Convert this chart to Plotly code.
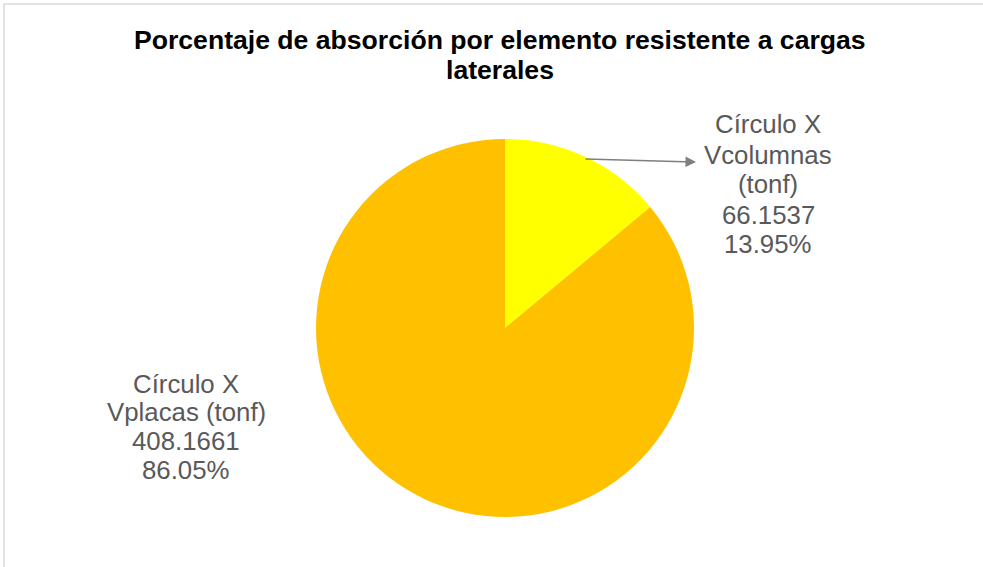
import plotly.graph_objects as go

# Chart data
categories = ["Círculo X Vcolumnas (tonf)", "Círculo X Vplacas (tonf)"]
label_lines = [["Círculo X", "Vcolumnas", "(tonf)"], ["Círculo X", "Vplacas (tonf)"]]
values = [66.1537, 408.1661]
colors = ["#FFFF00", "#FFC000"]
title_lines = ["Porcentaje de absorción por elemento resistente a cargas", "laterales"]

W, H = 983, 567


def px(x):
    return x / W


def py(y):
    return 1 - y / H


total = sum(values)
pcts = [v / total * 100 for v in values]

# Pie geometry (pixels)
cx, cy, r = 505, 328, 189

fig = go.Figure(
    go.Pie(
        labels=categories,
        values=values,
        marker=dict(colors=colors, line=dict(width=0)),
        sort=False,
        direction="clockwise",
        rotation=0,
        textinfo="none",
        hoverinfo="label+value+percent",
        domain=dict(x=[px(cx - r), px(cx + r)], y=[py(cy + r), py(cy - r)]),
        showlegend=False,
    )
)

annotations = []

# Data labels: one line per annotation (centre x, first line y, line gap, slice index)
label_specs = [
    (768, 124.5, 30.0, 0),
    (186, 383.5, 28.8, 1),
]
for lx, ly, gap, i in label_specs:
    lines = label_lines[i] + [f"{values[i]:.4f}", f"{pcts[i]:.2f}%"]
    for k, t in enumerate(lines):
        annotations.append(
            dict(
                x=px(lx), y=py(ly + k * gap), xref="paper", yref="paper",
                text=t, showarrow=False, xanchor="center", yanchor="middle",
                font=dict(family="Liberation Sans, Arial", size=25.8, color="#595959"),
            )
        )

# Leader line for the small slice
annotations.append(
    dict(
        x=px(696), y=py(162), xref="paper", yref="paper",
        ax=584 - 696, ay=159 - 162, text="", showarrow=True,
        arrowhead=2, arrowsize=1.4, arrowwidth=1.5, arrowcolor="#7F7F7F",
        standoff=0, startstandoff=0,
    )
)

# Title, two lines
for k, t in enumerate(title_lines):
    annotations.append(
        dict(
            x=px(500), y=py(40 + k * 30), xref="paper", yref="paper",
            text=f"<b>{t}</b>", showarrow=False,
            xanchor="center", yanchor="middle",
            font=dict(family="Liberation Sans, Arial", size=26.6, color="#000000"),
        )
    )

fig.update_layout(
    width=W, height=H,
    margin=dict(l=0, r=0, t=0, b=0),
    paper_bgcolor="white", plot_bgcolor="white",
    annotations=annotations,
    shapes=[
        dict(type="rect", xref="paper", yref="paper",
             x0=px(4), x1=1.02, y0=-0.02, y1=py(4),
             line=dict(color="#D9D9D9", width=1.5), fillcolor="rgba(0,0,0,0)"),
    ],
)

fig.write_html("out.html")
